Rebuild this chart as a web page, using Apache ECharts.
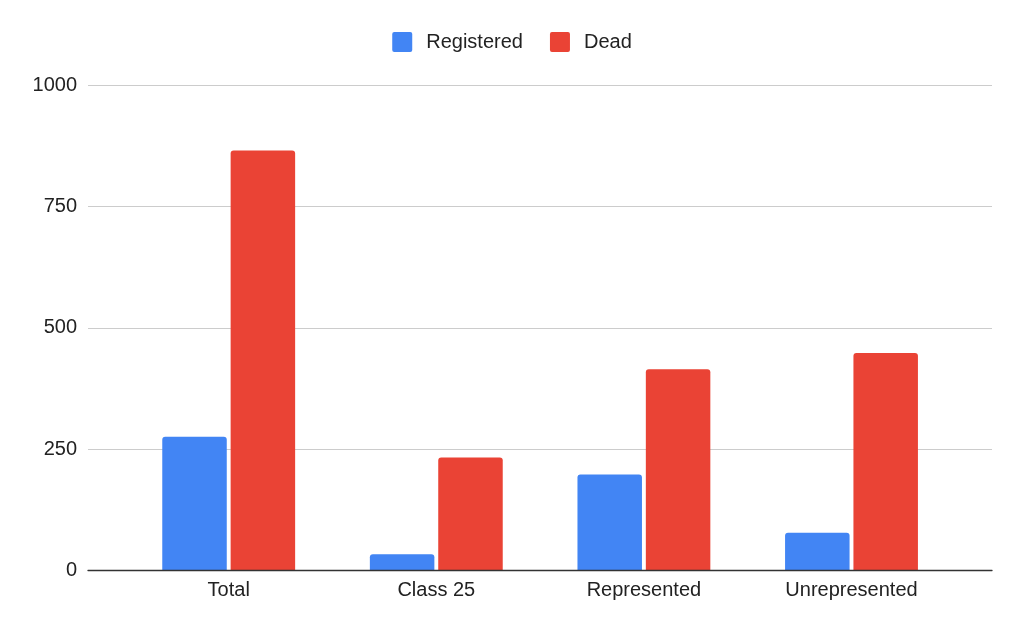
<!DOCTYPE html>
<html>
<head>
<meta charset="utf-8">
<script src="https://cdn.jsdelivr.net/npm/echarts@6/dist/echarts.min.js"></script>
<style>html,body{margin:0;padding:0;background:#fff}#c{width:1024px;height:633px}</style>
</head>
<body>
<div id="c"></div>
<script>
var categories = ['Total', 'Class 25', 'Represented', 'Unrepresented'];
var registered = [276, 34, 198, 78];
var dead = [865, 233, 415, 448];
var yTicks = [0, 250, 500, 750, 1000];

var chart = echarts.init(document.getElementById('c'));
var font = 'Liberation Sans, Arial, Helvetica, sans-serif';
chart.setOption({
  animation: false,
  textStyle: { fontFamily: font },
  legend: {
    top: 27, left: 'center',
    itemWidth: 20, itemHeight: 20, itemGap: 27,
    icon: 'path://M2,0 H18 A2,2 0 0 1 20,2 V18 A2,2 0 0 1 18,20 H2 A2,2 0 0 1 0,18 V2 A2,2 0 0 1 2,0 Z',
    textStyle: { fontSize: 20, color: '#222', fontFamily: font, padding: [0, 0, 0, 9] },
    data: ['Registered', 'Dead']
  },
  grid: [
    { left: 88, right: 32, top: 85, bottom: 62.3 },
    { left: 124.9, right: 68.7, top: 85, bottom: 62.3 }
  ],
  xAxis: [
    { gridIndex: 0, type: 'value', min: 0, max: 1, z: 5,
      axisLine: { show: true, lineStyle: { color: '#333', width: 1.3 } },
      axisTick: { show: false }, axisLabel: { show: false }, splitLine: { show: false } },
    { gridIndex: 1, type: 'category', data: categories,
      axisLine: { show: false }, axisTick: { show: false },
      axisLabel: { fontSize: 20, color: '#222', margin: 10, fontFamily: font } }
  ],
  yAxis: [
    { gridIndex: 0, type: 'value', min: yTicks[0], max: yTicks[yTicks.length - 1], interval: 250,
      axisLine: { show: false }, axisTick: { show: false },
      axisLabel: { fontSize: 20, color: '#222', margin: 11, fontFamily: font,
        formatter: function (v) { return String(v); } },
      splitLine: { lineStyle: { color: '#ccc', width: 1 } } },
    { gridIndex: 1, type: 'value', min: yTicks[0], max: yTicks[yTicks.length - 1], interval: 250, show: false,
      splitLine: { show: false } }
  ],
  series: [
    { name: 'Registered', type: 'bar', xAxisIndex: 1, yAxisIndex: 1, data: registered,
      barWidth: 64.5, barGap: '6%',
      itemStyle: { color: '#4285F4', borderRadius: [3, 3, 0, 0] } },
    { name: 'Dead', type: 'bar', xAxisIndex: 1, yAxisIndex: 1, data: dead,
      barWidth: 64.5, barGap: '6%',
      itemStyle: { color: '#EA4335', borderRadius: [3, 3, 0, 0] } }
  ]
});
</script>
</body>
</html>
